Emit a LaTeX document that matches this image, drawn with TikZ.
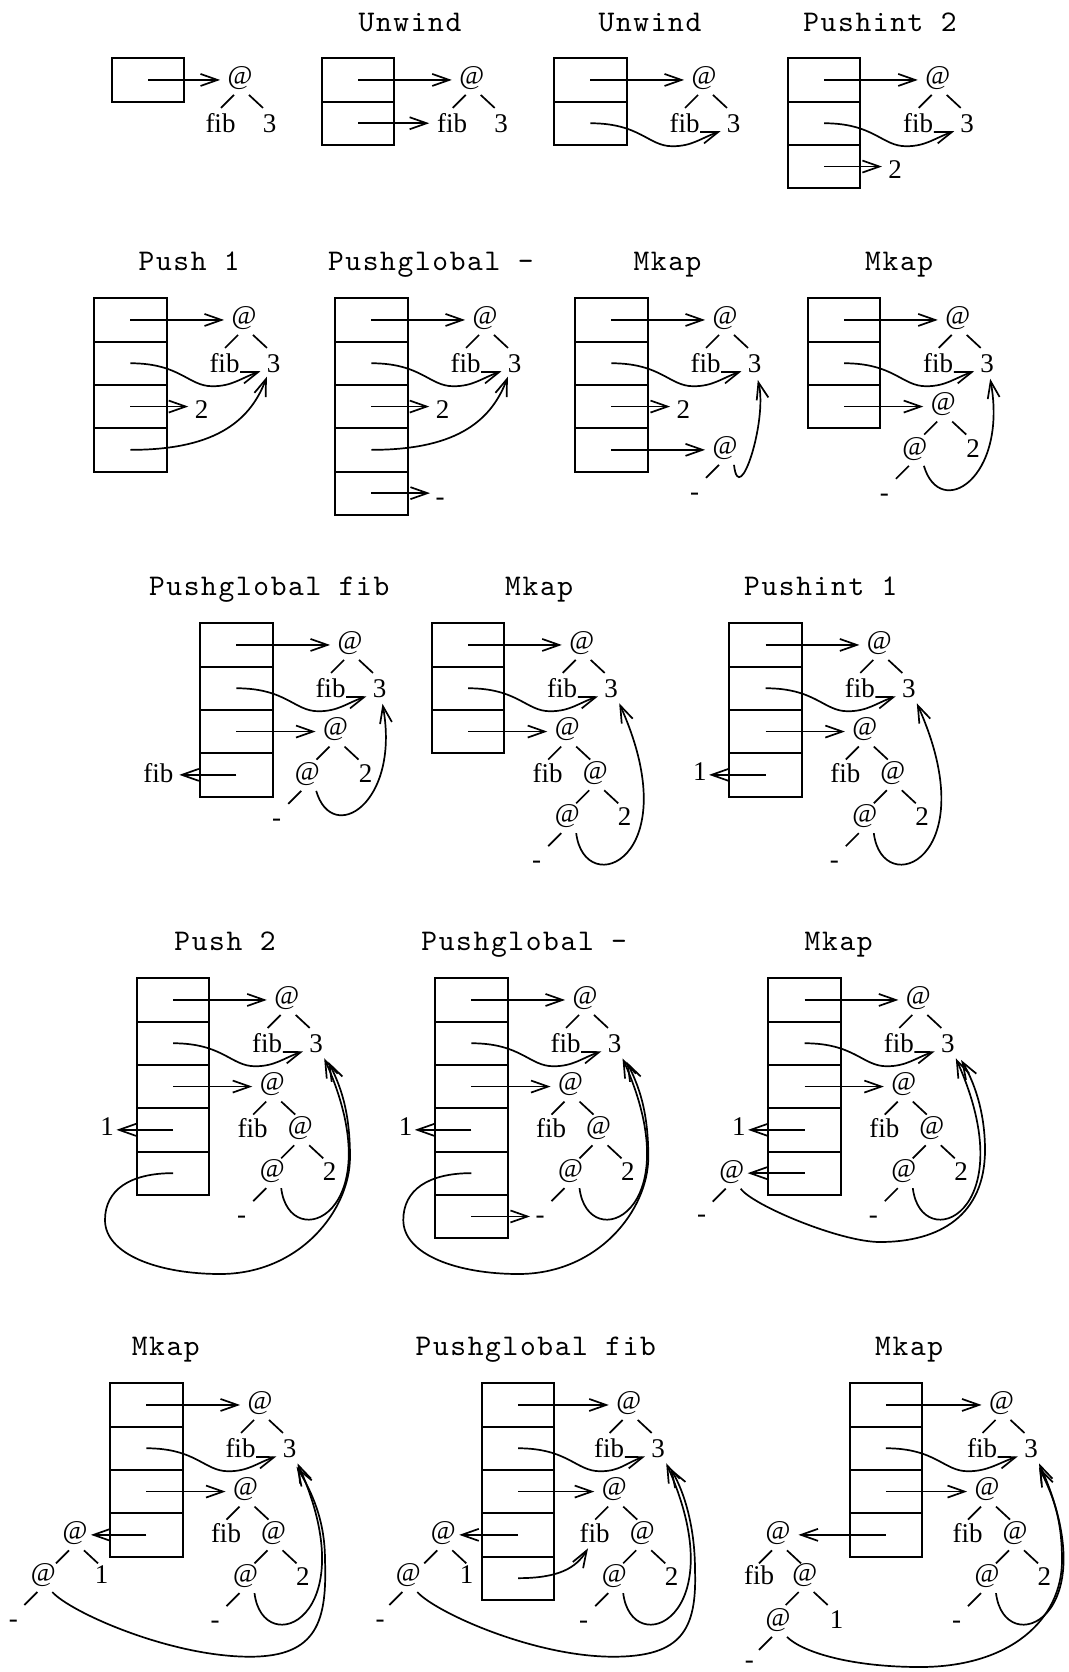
\documentclass[tikz,border=0pt]{standalone}
\usepackage{fontspec}
\setmainfont{Liberation Serif}
\newfontfamily\ttlfam{lmmono10-regular.otf}[LetterSpace=5.5]
\usetikzlibrary{arrows.meta,calc}

\newcommand\lblfont{\fontsize{27}{27}\selectfont}
\newcommand\ttlfont{\ttlfam\fontsize{30}{30}\selectfont}

\tikzset{
  box/.style={line width=2pt},
  link/.style={line width=1.7pt},
  arr/.style={link,-{Straight Barb[length=17pt,width=12pt,line join=miter]}},
  lbl/.style={inner sep=0pt,outer sep=0pt,font=\lblfont},
  ttl/.style={anchor=base,inner sep=0pt,font=\ttlfont},
}

% a stack of #1 cells, cell centres named c1, c2, ...
\newcommand\pstack[1]{%
  \foreach \k in {1,...,#1}{%
    \draw[box] (0,{43.3*(\k-1)}) rectangle (72.7,{43.3*\k});
    \coordinate (c\k) at (36.35,{21.65+43.3*(\k-1)});
  }}
% short tree edges below a parent node
\newcommand\ledge[1]{\draw[link] ($(#1)+(-6,17)$) -- ($(#1)+(-19,30)$);}
\newcommand\redge[1]{\draw[link] ($(#1)+(9,17)$) -- ($(#1)+(23,30)$);}
% horizontal pointers out of a cell
\newcommand\rptr[3]{\draw[arr] (#1) -- ($(#1 -| #2.west)+(-#3,0)$);}
\newcommand\lptr[3]{\draw[arr] (#1) -- ($(#1 -| #2.east)+(#3,0)$);}
% @ fib 3
\newcommand\toptree[1]{%
  \node[lbl] (r) at (#1,19.65) {@};
  \node[lbl] (f) at ($(r)+(-19.5,45.3)$) {fib};
  \node[lbl] (t) at ($(r)+(29.5,45.3)$) {3};
  \ledge{r}\redge{r}}
% second cell points at the 3
\newcommand\scurve{%
  \coordinate (lo) at ($(c2)+(82,23)$);
  \draw[arr] (c2) .. controls +(50,0) and +(-24,0) .. (lo)
    .. controls +(20,0) and +(-20,7) .. ($(t)+(-13,8)$);}
% @ (@ - 3) 2
\newcommand\treeB{%
  \node[lbl] (a2) at ($(r)+(-14.5,86.6)$) {@};
  \node[lbl] (a3) at ($(a2)+(-28.3,44.3)$) {@};
  \node[lbl] (n2) at ($(a2)+(30,44.3)$) {2};
  \node[lbl] (d) at ($(a3)+(-30.5,48.5)$) {-};
  \ledge{a2}\redge{a2}\ledge{a3}
  \draw[arr] ($(a3)+(9,17)$) .. controls +(16,55) and +(18,100) .. ($(t)+(3,15.5)$);
  \rptr{c3}{a2}{7.5}}
% @ fib (@ (@ - 3) 2)
\newcommand\treeD{%
  \node[lbl] (a2) at ($(r)+(-14.5,86.6)$) {@};
  \node[lbl] (f2) at ($(a2)+(-19.5,43.75)$) {fib};
  \node[lbl] (a3) at ($(a2)+(28,43.75)$) {@};
  \node[lbl] (a4) at ($(a3)+(-28,42.85)$) {@};
  \node[lbl] (n2) at ($(a3)+(29.3,42.85)$) {2};
  \node[lbl] (d) at ($(a4)+(-30.5,48.5)$) {-};
  \ledge{a2}\redge{a2}\ledge{a3}\redge{a3}\ledge{a4}
  \draw[arr] ($(a4)+(9,17)$) .. controls +(8.3,68) and +(70,156) .. ($(t)+(8,15)$);
  \rptr{c3}{a2}{7.5}}
% fifth cell loops round to the 3
\newcommand\loopE{%
  \draw[arr] (c5) .. controls +(-43.3,0) and +(0,-30) .. (-31.7,241.7)
    .. controls +(0,35) and +(-60,0) .. (83.3,295.7)
    .. controls +(80,0) and +(0,53) .. (213.3,178.7)
    .. controls +(0,-47) and +(11.7,23.3) .. ($(t)+(12.1,18.45)$);}

\begin{document}
\begin{tikzpicture}[x=1pt,y=-1pt]
\fill[white] (0,0) rectangle (1068,1672);
\useasboundingbox (0,0) rectangle (1068,1672);

% instruction names
\node[ttl] (h2) at (410,31.5) {Unwind};
\node[ttl] (h3) at (650,31.5) {Unwind};
\node[ttl] (h4) at (880,31.5) {Pushint 2};
\node[ttl] (h5) at (189.2,270.7) {Push 1};
\node[ttl] (h6) at (430.8,270.7) {Pushglobal -};
\node[ttl] (h7) at (667.5,270.7) {Mkap};
\node[ttl] (h8) at (899.2,270.7) {Mkap};
\node[ttl] (h9) at (269.2,595) {Pushglobal fib};
\node[ttl] (h10) at (539.2,595) {Mkap};
\node[ttl] (h11) at (820.8,595) {Pushint 1};
\node[ttl] (h12) at (225,950.7) {Push 2};
\node[ttl] (h13) at (524.2,950.7) {Pushglobal -};
\node[ttl] (h14) at (838.7,950.7) {Mkap};
\node[ttl] (h15) at (165.8,1355) {Mkap};
\node[ttl] (h16) at (535.8,1355) {Pushglobal fib};
\node[ttl] (h17) at (909.2,1355) {Mkap};

% initial state
\begin{scope}[shift={(111.7,58.3)},name prefix=pa-]
  \pstack{1}\toptree{128.3}\rptr{c1}{r}{7.5}
\end{scope}
% Unwind
\begin{scope}[shift={(321.7,58.3)},name prefix=pb-]
  \pstack{2}\toptree{150}\rptr{c1}{r}{7.5}\rptr{c2}{f}{8}
\end{scope}
% Unwind
\begin{scope}[shift={(554,58.3)},name prefix=pc-]
  \pstack{2}\toptree{150}\rptr{c1}{r}{7.5}\scurve
\end{scope}
% Pushint 2
\begin{scope}[shift={(787.7,58.3)},name prefix=pd-]
  \pstack{3}\toptree{150}\rptr{c1}{r}{7.5}\scurve
  \node[lbl] (n2) at (107.5,111.75) {2};\rptr{c3}{n2}{6.5}
\end{scope}
% Push 1
\begin{scope}[shift={(94,298.3)},name prefix=pe-]
  \pstack{4}\toptree{150}\rptr{c1}{r}{7.5}\scurve
  \node[lbl] (n2) at (107.5,111.75) {2};\rptr{c3}{n2}{6.5}
  \draw[arr] (c4) .. controls +(80,0) and +(-18,48) .. ($(t)+(-6.6,13.4)$);
\end{scope}
% Pushglobal -
\begin{scope}[shift={(335,298.3)},name prefix=pf-]
  \pstack{5}\toptree{150}\rptr{c1}{r}{7.5}\scurve
  \node[lbl] (n2) at (107.5,111.75) {2};\rptr{c3}{n2}{6.5}
  \draw[arr] (c4) .. controls +(80,0) and +(-18,48) .. ($(t)+(-6.6,13.4)$);
  \node[lbl] (m) at (105,204) {-};\rptr{c5}{m}{5.5}
\end{scope}
% Mkap
\begin{scope}[shift={(575,298.3)},name prefix=pg-]
  \pstack{4}\toptree{150}\rptr{c1}{r}{7.5}\scurve
  \node[lbl] (n2) at (108.3,111.75) {2};\rptr{c3}{n2}{6.5}
  \node[lbl] (a) at (150,149.55) {@};\rptr{c4}{a}{7.5}
  \node[lbl] (d) at ($(a)+(-30.5,48.5)$) {-};\ledge{a}
  \draw[arr] ($(a)+(9,17)$) .. controls +(5,45) and +(10,40) .. ($(t)+(3.3,16.7)$);
\end{scope}
% Mkap
\begin{scope}[shift={(807.7,298.3)},name prefix=ph-]
  \pstack{3}\toptree{150}\rptr{c1}{r}{7.5}\scurve\treeB
\end{scope}
% Pushglobal fib
\begin{scope}[shift={(200,623.3)},name prefix=pi-]
  \pstack{4}\toptree{150}\rptr{c1}{r}{7.5}\scurve\treeB
  \node[lbl] (fl) at (-41.7,149.55) {fib};\lptr{c4}{fl}{6}
\end{scope}
% Mkap
\begin{scope}[shift={(431.7,623.3)},name prefix=pj-]
  \pstack{3}\toptree{150}\rptr{c1}{r}{7.5}\scurve\treeD
\end{scope}
% Pushint 1
\begin{scope}[shift={(729.3,623.3)},name prefix=pk-]
  \pstack{4}\toptree{150}\rptr{c1}{r}{7.5}\scurve\treeD
  \node[lbl] (one) at (-29.5,148.55) {1};\lptr{c4}{one}{2.5}
\end{scope}
% Push 2
\begin{scope}[shift={(136.7,978.3)},name prefix=pl-]
  \pstack{5}\toptree{150}\rptr{c1}{r}{7.5}\scurve\treeD
  \node[lbl] (one) at (-29.5,148.55) {1};\lptr{c4}{one}{2.5}
  \loopE
\end{scope}
% Pushglobal -
\begin{scope}[shift={(435,978.3)},name prefix=pm-]
  \pstack{6}\toptree{150}\rptr{c1}{r}{7.5}\scurve\treeD
  \node[lbl] (one) at (-29.5,148.55) {1};\lptr{c4}{one}{2.5}
  \loopE\rptr{c6}{d}{5.5}
\end{scope}
% Mkap
\begin{scope}[shift={(768.3,978.3)},name prefix=pn-]
  \pstack{5}\toptree{150}\rptr{c1}{r}{7.5}\scurve\treeD
  \node[lbl] (one) at (-29.5,148.55) {1};\lptr{c4}{one}{2.5}
  \node[lbl] (aL) at (-36.6,193.35) {@};\lptr{c5}{aL}{3.5}
  \node[lbl] (dL) at ($(aL)+(-30,47)$) {-};\ledge{aL}
  \draw[arr] ($(aL)+(9,17)$) .. controls +(11.3,16.3) and +(-40,0) .. (111.7,263.7)
    .. controls +(60,0) and +(0,65) .. (216.7,171.7)
    .. controls +(0,-40) and +(12,20) .. ($(t)+(13.3,16.7)$);
\end{scope}
% Mkap
\begin{scope}[shift={(110,1383.3)},name prefix=po-]
  \pstack{4}\toptree{150}\rptr{c1}{r}{7.5}\scurve\treeD
  \node[lbl] (aL) at (-35,150.05) {@};\lptr{c4}{aL}{3.5}
  \node[lbl] (aM) at ($(aL)+(-31.7,41.65)$) {@};
  \node[lbl] (one) at ($(aL)+(26.7,41.65)$) {1};
  \node[lbl] (dL) at ($(aM)+(-30,49)$) {-};
  \ledge{aL}\redge{aL}\ledge{aM}
  \draw[arr] ($(aM)+(9,17)$) .. controls +(17.7,20) and +(-80,0) .. (140,273.4)
    .. controls +(68,0) and +(2,60) .. (215,176.7)
    .. controls +(0,-40) and +(15.3,25.3) .. ($(t)+(7,18.4)$);
\end{scope}
% Pushglobal fib
\begin{scope}[shift={(481.7,1383.3)},name prefix=pp-]
  \pstack{5}\toptree{147}\rptr{c1}{r}{7.5}\scurve\treeD
  \node[lbl] (aL) at (-38.4,150.05) {@};\lptr{c4}{aL}{3.5}
  \node[lbl] (aM) at ($(aL)+(-35,41.65)$) {@};
  \node[lbl] (one) at ($(aL)+(23.4,41.65)$) {1};
  \node[lbl] (dL) at ($(aM)+(-28.3,49)$) {-};
  \ledge{aL}\redge{aL}\ledge{aM}
  \draw[arr] (c5) .. controls +(40,0) and +(-12,20) .. ($(f2)+(-6.7,15)$);
  \draw[arr] ($(aM)+(9,17)$) .. controls +(17.7,20) and +(-80,0) .. (131.6,273.4)
    .. controls +(68,0) and +(2,60) .. (213.3,186.7)
    .. controls +(0,-40) and +(15.3,25.3) .. ($(t)+(12,20)$);
\end{scope}
% Mkap
\begin{scope}[shift={(849.5,1383.3)},name prefix=pq-]
  \pstack{4}\toptree{152}\rptr{c1}{r}{7.5}\scurve\treeD
  \node[lbl] (aL) at (-71.5,150.05) {@};\lptr{c4}{aL}{8}
  \node[lbl] (fL) at ($(aL)+(-19,41.65)$) {fib};
  \node[lbl] (aM) at ($(aL)+(26.7,41.65)$) {@};
  \node[lbl] (aN) at ($(aM)+(-26.7,44.9)$) {@};
  \node[lbl] (one) at ($(aM)+(32,44.9)$) {1};
  \node[lbl] (dL) at ($(aN)+(-28.7,45)$) {-};
  \ledge{aL}\redge{aL}\ledge{aM}\redge{aM}\ledge{aN}
  \draw[arr] ($(aN)+(9,17)$) .. controls +(15,15) and +(-70,0) .. (70.5,283.7)
    .. controls +(90,0) and +(0,60) .. (212.5,176.7)
    .. controls +(0,-45) and +(12,25) .. ($(t)+(8,19)$);
\end{scope}
\end{tikzpicture}
\end{document}
